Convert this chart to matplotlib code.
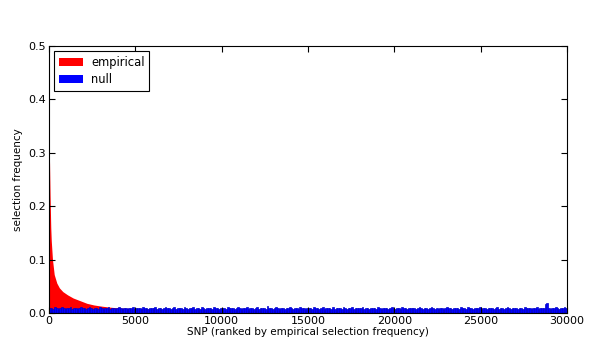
import matplotlib
matplotlib.use("Agg")
import matplotlib.pyplot as plt

# empirical selection frequency (ranked), read at sample ranks
emp_rank = [0, 30, 60, 100, 130, 200, 300, 450, 600, 800, 1070, 1400, 1800, 2200,
            2600, 3000, 3500, 4000, 5000, 7000, 10000, 15000, 20000, 25000, 30000]
emp_freq = [0.32, 0.28, 0.22, 0.16, 0.135, 0.1, 0.072, 0.056, 0.047, 0.04, 0.034,
            0.028, 0.023, 0.018, 0.015, 0.013, 0.011, 0.0095, 0.008, 0.006, 0.005,
            0.004, 0.003, 0.002, 0.001]

# null selection frequency, one value per 100 SNPs (in thousandths)
null_bin_start = list(range(0, 30000, 100))
null_milli = [
    9, 10, 8, 11, 9, 8, 10, 12, 9, 8, 10, 9, 11, 8, 9,
    10, 8, 9, 11, 9, 10, 8, 9, 12, 9, 8, 10, 9, 8, 11,
    9, 8, 10, 9, 11, 8, 9, 10, 8, 9, 11, 9, 8, 10, 9,
    8, 10, 9, 12, 8, 9, 10, 9, 8, 11, 9, 10, 8, 9, 10,
    9, 11, 8, 9, 10, 8, 9, 12, 9, 10, 8, 9, 11, 8, 9,
    10, 9, 8, 11, 9, 8, 10, 9, 11, 8, 9, 10, 8, 12, 9,
    8, 9, 10, 9, 8, 11, 9, 10, 8, 9, 10, 9, 8, 11, 9,
    9, 10, 8, 9, 12, 9, 8, 10, 9, 11, 8, 9, 10, 8, 9,
    11, 8, 9, 10, 9, 8, 13, 9, 10, 8, 9, 11, 9, 8, 10,
    9, 8, 10, 9, 11, 9, 8, 10, 9, 8, 12, 9, 10, 8, 9,
    10, 9, 8, 11, 9, 10, 8, 9, 11, 8, 9, 10, 9, 8, 11,
    8, 9, 10, 9, 8, 11, 9, 8, 10, 9, 12, 8, 9, 10, 9,
    9, 11, 8, 9, 10, 8, 9, 10, 9, 8, 11, 9, 8, 10, 9,
    10, 8, 9, 11, 9, 8, 10, 9, 8, 11, 9, 10, 8, 9, 10,
    9, 10, 8, 9, 11, 9, 8, 10, 9, 8, 10, 12, 9, 8, 9,
    8, 9, 10, 8, 9, 11, 9, 10, 8, 9, 10, 9, 8, 11, 9,
    9, 8, 11, 9, 10, 8, 9, 10, 9, 11, 8, 9, 10, 8, 9,
    10, 9, 8, 9, 11, 8, 9, 10, 8, 9, 11, 9, 8, 10, 9,
    9, 8, 10, 9, 8, 11, 9, 10, 9, 8, 10, 9, 11, 8, 9,
    10, 9, 17, 19, 9, 8, 10, 9, 11, 9, 8, 10, 9, 11, 10,
]
null_freq = [v / 1000.0 for v in null_milli]

plt.rcParams['font.family'] = ['DejaVu Sans']
fig = plt.figure(figsize=(6.13, 3.6), dpi=100)
ax = fig.add_axes([0.080, 0.1306, 0.845, 0.7414])

ax.fill_between(emp_rank, emp_freq, 0, color='red', linewidth=0, label='empirical')
ax.bar(null_bin_start, null_freq, width=100, align='edge', color='blue',
       edgecolor='#0000c8', linewidth=0.5, label='null')

ax.set_xlim(0, 30000)
ax.set_ylim(0, 0.5)
ax.set_xticks(range(0, 30001, 5000))
ax.set_yticks([0.0, 0.1, 0.2, 0.3, 0.4, 0.5])
ax.set_yticklabels(['0.0', '0.1', '0.2', '0.3', '0.4', '0.5'])
ax.tick_params(direction='in', top=True, right=True, labelsize=8, length=4, pad=2)
ax.set_xlabel('SNP (ranked by empirical selection frequency)', fontsize=7.5, labelpad=1)
ax.set_ylabel('selection frequency', fontsize=7.5, labelpad=4)

leg = ax.legend(loc='upper left', fontsize=8.3, fancybox=False, framealpha=1,
                edgecolor='black', borderaxespad=0.45, handlelength=2.1,
                labelspacing=0.35, borderpad=0.4, handletextpad=0.7)
leg.get_frame().set_linewidth(0.8)
for h in leg.legend_handles:
    h.set_edgecolor('none')

fig.savefig('out.png', dpi=100)
